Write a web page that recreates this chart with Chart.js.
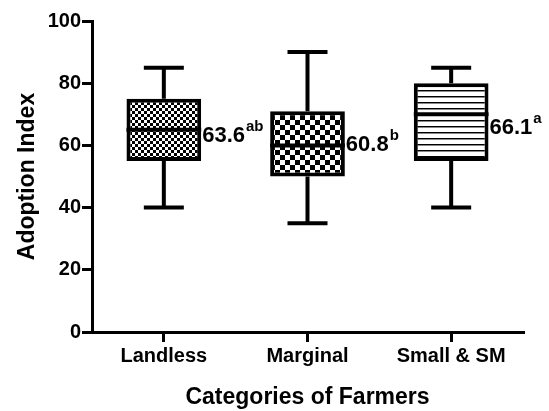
<!DOCTYPE html>
<html>
<head>
<title>Adoption Index - Box plot</title>
<style type="text/css">
  html, body { margin: 0; padding: 0; background: #fff; }
  #chart-container { width: 549px; height: 411px; }
</style>
</head>
<body>
<div id="chart-container">
  <canvas id="mycanvas" width="549" height="411"></canvas>
</div>

<script src="https://cdn.jsdelivr.net/npm/chart.js@4.4.0/dist/chart.umd.min.js"></script>
<script>
// data
var categories = ['Landless', 'Marginal', 'Small & SM'];
var whiskerMin = [40, 35, 40];
var quartile1 = [55, 50, 55];
var medians = [65, 60, 70];
var quartile3 = [75, 71, 80];
var whiskerMax = [85, 90, 85];
var means = [63.6, 60.8, 66.1];
var meanLetters = ['ab', 'b', 'a'];
var yTicks = [0, 20, 40, 60, 80, 100];

var FONT = '"Liberation Sans", Arial, sans-serif';

// fill patterns for the three boxes
function makePattern(kind) {
    var c = document.createElement('canvas');
    var g = c.getContext('2d');
    if (kind === 'fine' || kind === 'coarse') {
        var a = kind === 'fine' ? 3 : 5;
        c.width = c.height = a * 2;
        g.fillStyle = '#000';
        g.fillRect(0, 0, a * 2, a * 2);
        g.fillStyle = '#fff';
        g.fillRect(0, 0, a, a);
        g.fillRect(a, a, a, a);
    } else {
        c.width = 6; c.height = 6;
        g.fillStyle = '#fff';
        g.fillRect(0, 0, 6, 6);
        g.fillStyle = '#000';
        g.fillRect(0, 0, 6, 1);
        g.fillStyle = '#888';
        g.fillRect(0, 1, 6, 1);
    }
    return g.createPattern(c, 'repeat');
}

var boxFills = [makePattern('fine'), makePattern('coarse'), makePattern('lines')];

// whiskers, caps, medians and mean labels
var boxExtras = {
    id: 'boxExtras',
    afterDatasetsDraw: function(chart) {
        var ctx = chart.ctx;
        var y = chart.scales.y;
        var meta = chart.getDatasetMeta(0);
        ctx.save();
        ctx.strokeStyle = '#000';
        ctx.fillStyle = '#000';
        meta.data.forEach(function(bar, i) {
            var cx = bar.x;
            var half = bar.width / 2;
            var capHalf = 20;

            ctx.lineWidth = 4;
            ctx.beginPath();
            ctx.moveTo(cx, y.getPixelForValue(quartile3[i]));
            ctx.lineTo(cx, y.getPixelForValue(whiskerMax[i]));
            ctx.moveTo(cx, y.getPixelForValue(quartile1[i]));
            ctx.lineTo(cx, y.getPixelForValue(whiskerMin[i]));
            ctx.stroke();

            ctx.beginPath();
            ctx.moveTo(cx - capHalf, y.getPixelForValue(whiskerMax[i]));
            ctx.lineTo(cx + capHalf, y.getPixelForValue(whiskerMax[i]));
            ctx.moveTo(cx - capHalf, y.getPixelForValue(whiskerMin[i]));
            ctx.lineTo(cx + capHalf, y.getPixelForValue(whiskerMin[i]));
            ctx.stroke();

            ctx.beginPath();
            ctx.moveTo(cx - half, y.getPixelForValue(medians[i]));
            ctx.lineTo(cx + half, y.getPixelForValue(medians[i]));
            ctx.stroke();

            // mean label with superscript letters
            var tx = cx + half + 1;
            var base = y.getPixelForValue(means[i]) + 8;
            ctx.textAlign = 'left';
            ctx.textBaseline = 'alphabetic';
            ctx.font = 'bold 22px ' + FONT;
            var txt = means[i].toFixed(1);
            ctx.fillText(txt, tx, base);
            var w = ctx.measureText(txt).width;
            ctx.font = 'bold 15px ' + FONT;
            ctx.fillText(meanLetters[i], tx + w + 1, base - 11);
        });
        ctx.restore();
    }
};

var ctx = document.getElementById('mycanvas');

var boxChart = new Chart(ctx, {
    type: 'bar',
    data: {
        labels: categories,
        datasets: [{
            label: 'Adoption Index',
            data: categories.map(function(c, i) { return [quartile1[i], quartile3[i]]; }),
            backgroundColor: boxFills,
            borderColor: '#000',
            borderWidth: 4,
            borderSkipped: false,
            barPercentage: 0.52,
            categoryPercentage: 1
        }]
    },
    options: {
        responsive: false,
        animation: false,
        events: [],
        layout: { padding: { top: 21, right: 26, left: 0, bottom: 0 } },
        plugins: {
            legend: { display: false },
            tooltip: { enabled: false }
        },
        scales: {
            x: {
                grid: {
                    display: true, drawOnChartArea: false, drawTicks: true,
                    tickLength: 10, offset: false, color: '#000', lineWidth: 3
                },
                border: { display: true, color: '#000', width: 3 },
                ticks: { color: '#000', padding: 2, font: { family: FONT, size: 20, weight: 'bold' } },
                title: {
                    display: true, text: 'Categories of Farmers', color: '#000',
                    font: { family: FONT, size: 23, weight: 'bold' },
                    padding: { top: 0, bottom: 0 }
                },
                afterFit: function(s) { s.height = 79; }
            },
            y: {
                min: 0,
                max: 100,
                afterBuildTicks: function(s) {
                    s.ticks = yTicks.map(function(v) { return { value: v }; });
                },
                grid: {
                    display: true, drawOnChartArea: false, drawTicks: true,
                    tickLength: 10, color: '#000', lineWidth: 3
                },
                border: { display: true, color: '#000', width: 3 },
                ticks: { color: '#000', padding: 1, font: { family: FONT, size: 20, weight: 'bold' } },
                title: {
                    display: true, text: 'Adoption Index', color: '#000',
                    font: { family: FONT, size: 23, weight: 'bold' },
                    padding: { top: 14, bottom: 2 }
                },
                afterFit: function(s) { s.width = 92; }
            }
        }
    },
    plugins: [boxExtras]
});
</script>
</body>
</html>
